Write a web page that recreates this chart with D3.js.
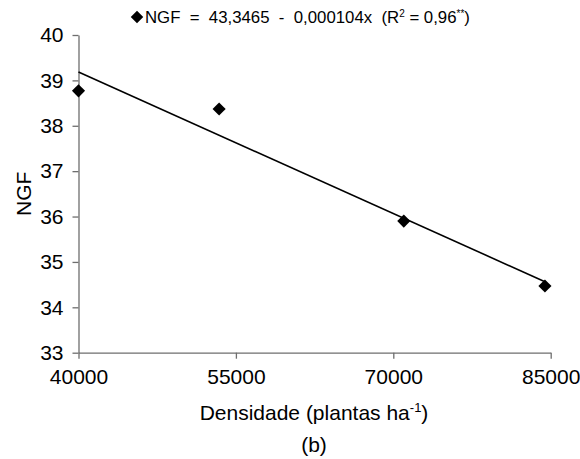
<!DOCTYPE html>
<meta charset="utf-8">
<style>
body { margin: 0; background: #fff; }
text { font-family: "Liberation Sans", Arial, sans-serif; fill: #000; }
.axis path, .axis line { stroke: #6e6e6e; stroke-width: 1.3px; }
</style>
<svg width="580" height="459"></svg>
<script src="https://d3js.org/d3.v7.min.js"></script>
<script>
// densidade (plantas/ha) and NGF
var densidade = [40000, 53400, 71000, 84450];
var ngf = [38.77, 38.37, 35.9, 34.47];
var xTicks = [40000, 55000, 70000, 85000];
var yTicks = [33, 34, 35, 36, 37, 38, 39, 40];
// fitted line NGF = 43,3465 - 0,000104x
var a = 43.3465, b = -0.000104;

var svg = d3.select("svg");

var x = d3.scaleLinear().domain([40000, 85000]).range([78.5, 550.7]);
var y = d3.scaleLinear().domain([33, 40]).range([352.7, 35]);

// y axis
var yAxis = svg.append("g")
    .attr("class", "axis")
    .attr("transform", "translate(" + x(40000) + ",0)")
    .call(d3.axisLeft(y).tickValues(yTicks).tickFormat(d3.format("d")).tickSize(6).tickPadding(9).tickSizeOuter(0));
yAxis.selectAll("text").style("font-size", "21px");

// x axis
var xAxis = svg.append("g")
    .attr("class", "axis")
    .attr("transform", "translate(0," + y(33) + ")")
    .call(d3.axisBottom(x).tickValues(xTicks).tickFormat(d3.format("d")).tickSize(6).tickPadding(10).tickSizeOuter(0));
xAxis.selectAll("text").style("font-size", "21px");

// regression line
var xs = [d3.min(densidade), d3.max(densidade)];
svg.append("line")
    .attr("x1", x(xs[0])).attr("y1", y(a + b * xs[0]))
    .attr("x2", x(xs[1])).attr("y2", y(a + b * xs[1]))
    .attr("stroke", "#000")
    .attr("stroke-width", 1.6);

// points
var diamond = d3.symbol().type(d3.symbolDiamond2 || d3.symbolDiamond).size(110);
svg.append("g").selectAll("path")
    .data(densidade)
    .enter().append("path")
    .attr("d", diamond)
    .attr("transform", function(d, i) { return "translate(" + x(d) + "," + y(ngf[i]) + ")"; })
    .attr("fill", "#000");

// legend
svg.append("path")
    .attr("d", d3.symbol().type(d3.symbolDiamond2 || d3.symbolDiamond).size(100))
    .attr("transform", "translate(137,17)")
    .attr("fill", "#000");
var leg = svg.append("text")
    .attr("x", 145).attr("y", 23)
    .style("font-size", "16.8px")
    .attr("xml:space", "preserve")
    .style("white-space", "pre");
leg.append("tspan").text("NGF  =  43,3465  -  0,000104x  (R");
leg.append("tspan").text("2").attr("dy", -6).style("font-size", "10px");
leg.append("tspan").text(" = 0,96").attr("dy", 6);
leg.append("tspan").text("**").attr("dy", -6).style("font-size", "10px");
leg.append("tspan").text(")").attr("dy", 6);

// axis titles
svg.append("text")
    .attr("transform", "translate(31," + ((y(33) + y(40)) / 2) + ") rotate(-90)")
    .attr("text-anchor", "middle")
    .style("font-size", "21px")
    .text("NGF");

var xt = svg.append("text")
    .attr("x", 314).attr("y", 420)
    .attr("text-anchor", "middle")
    .style("font-size", "21px");
xt.append("tspan").text("Densidade (plantas ha");
xt.append("tspan").text("-1").attr("dy", -8).style("font-size", "13px");
xt.append("tspan").text(")").attr("dy", 8);

svg.append("text")
    .attr("x", 314).attr("y", 452)
    .attr("text-anchor", "middle")
    .style("font-size", "21px")
    .text("(b)");
</script>
